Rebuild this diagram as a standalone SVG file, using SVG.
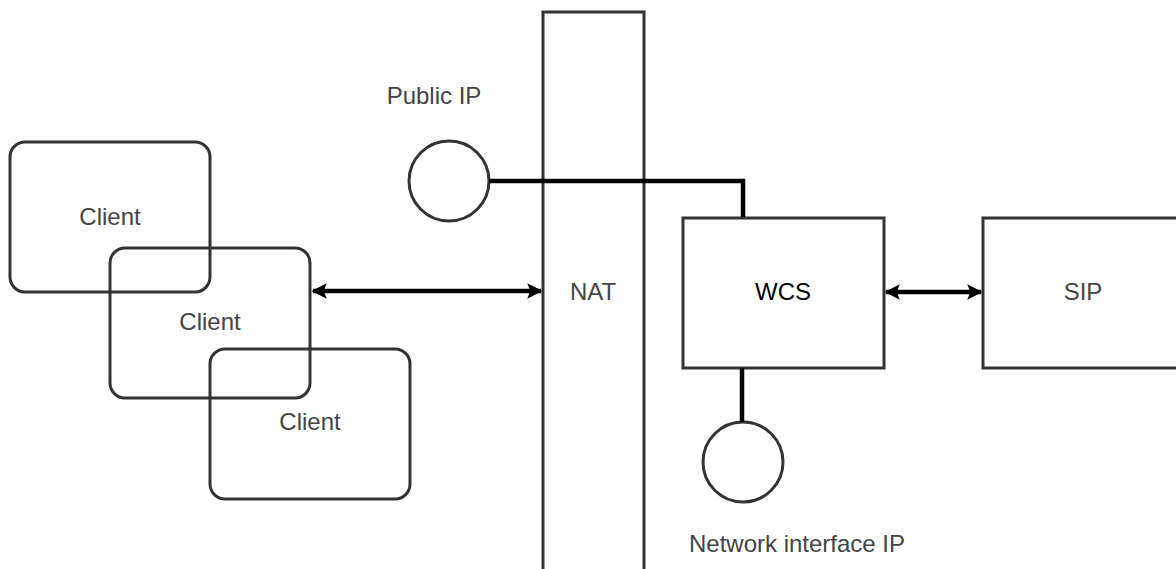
<svg xmlns="http://www.w3.org/2000/svg" width="1176" height="569" viewBox="0 0 1176 569">
<defs>
<marker id="ah" viewBox="0 0 10 10" refX="9" refY="5" markerWidth="3.4" markerHeight="4" orient="auto-start-reverse" markerUnits="strokeWidth">
<path d="M0,0 L10,5 L0,10 L2,5 Z" fill="#000"/>
</marker>
<style>
.box{fill:none;stroke:#333;stroke-width:3}
.txt{font-family:"Liberation Sans",Arial,sans-serif;font-size:24px;fill:#444;text-anchor:middle}
.conn{fill:none;stroke:#000;stroke-width:4.5}
</style>
</defs>
<rect width="1176" height="569" fill="#fff"/>
<g id="client1"><rect class="box" x="10" y="142" width="200" height="150" rx="15"/><text class="txt" x="110" y="225">Client</text></g>
<g id="client2"><rect class="box" x="110" y="248" width="200" height="150" rx="15"/><text class="txt" x="210" y="330">Client</text></g>
<g id="client3"><rect class="box" x="210" y="349" width="200" height="150" rx="15"/><text class="txt" x="310" y="430">Client</text></g>
<g id="nat"><rect class="box" x="543" y="12" width="101" height="570"/><text class="txt" x="593" y="300">NAT</text></g>
<g id="publicip"><circle class="box" cx="449" cy="181" r="40"/><text class="txt" x="434" y="104">Public IP</text></g>
<g id="wcs"><rect class="box" x="683" y="218" width="201" height="150"/><text class="txt" x="783" y="300" style="fill:#000">WCS</text></g>
<g id="sip"><rect class="box" x="983" y="218" width="200" height="150"/><text class="txt" x="1083" y="300">SIP</text></g>
<g id="netip"><circle class="box" cx="743" cy="462" r="40"/><text class="txt" x="797" y="552">Network interface IP</text></g>
<g id="connectors">
<path class="conn" d="M489,181 H743 V217"/>
<path class="conn" d="M742,368 V422"/>
<path class="conn" d="M313,291 H541" marker-start="url(#ah)" marker-end="url(#ah)"/>
<path class="conn" d="M886,292 H981" marker-start="url(#ah)" marker-end="url(#ah)"/>
</g>
</svg>
